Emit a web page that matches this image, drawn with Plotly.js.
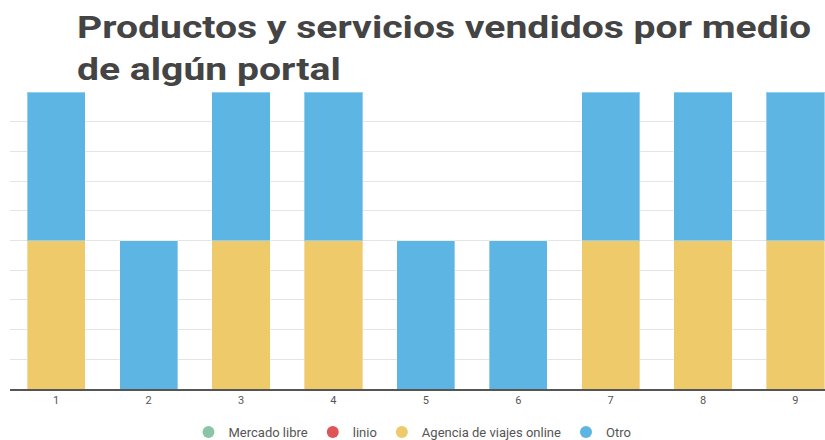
<!DOCTYPE html>
<html>
<head>
<meta charset="utf-8">
<script src="https://cdn.plot.ly/plotly-3.0.1.min.js"></script>
<style>html,body{margin:0;padding:0;background:#fff;overflow:hidden}</style>
</head>
<body>
<div id="chart" style="width:825px;height:440px"></div>
<script>
const categories = [1, 2, 3, 4, 5, 6, 7, 8, 9];
const tickLabels = ["1", "2", "3", "4", "5", "6", "7", "8", "9"];
const seriesNames = ["Mercado libre", "linio", "Agencia de viajes online", "Otro"];
const mercadoLibre = [0, 0, 0, 0, 0, 0, 0, 0, 0];
const linio = [0, 0, 0, 0, 0, 0, 0, 0, 0];
const agencia = [1, 0, 1, 1, 0, 0, 1, 1, 1];
const otro = [1, 1, 1, 1, 1, 1, 1, 1, 1];
const colors = ["#8CC5A6", "#E05458", "#EECA6A", "#5DB5E4"];
const values = [mercadoLibre, linio, agencia, otro];

const traces = [];
values.forEach((v, i) => {
  traces.push({
    type: "bar", x: categories, y: v, name: seriesNames[i],
    marker: {color: colors[i], line: {color: "rgba(255,255,255,0.35)", width: 1}},
    width: 0.63, showlegend: false, legendgroup: "g" + i, hoverinfo: "x+y+name"
  });
});
values.forEach((v, i) => {
  traces.push({
    type: "scatter", mode: "markers", x: [null], y: [null], name: seriesNames[i],
    marker: {color: colors[i], size: 15, symbol: "circle"},
    legendgroup: "g" + i, showlegend: true
  });
});

const TITLE_X = 77;
const layout = {
  width: 825, height: 440,
  margin: {l: 10, r: 0, t: 92, b: 51},
  paper_bgcolor: "#fff", plot_bgcolor: "#fff",
  barmode: "stack",
  title: {
    text: "<b>Productos y servicios vendidos por medio<br>de algún portal</b>",
    font: {family: "Roboto, sans-serif", size: 32, color: "#444"},
    x: TITLE_X / 825, xref: "container", xanchor: "left",
    y: 0.9135, yref: "container", yanchor: "top"
  },
  xaxis: {
    range: [0.5, 9.32], tickvals: categories, ticktext: tickLabels,
    showgrid: false, zeroline: false, showline: true, linecolor: "#555", linewidth: 2,
    ticks: "", tickfont: {family: "Roboto, sans-serif", size: 11, color: "#555"}
  },
  yaxis: {
    range: [0, 2], dtick: 0.2, showticklabels: false, gridcolor: "#e4e4e4", gridwidth: 1,
    zeroline: false, showline: false, ticks: ""
  },
  showlegend: true,
  legend: {
    orientation: "h", x: 0.5, xanchor: "center", xref: "container",
    y: 8 / 440, yanchor: "middle", yref: "container",
    font: {family: "Roboto, sans-serif", size: 13, color: "#555"},
    itemsizing: "constant", traceorder: "normal"
  }
};
const gd = document.getElementById("chart");
function stretchTitle() {
  const s = 1.222;
  const t = gd.querySelector(".gtitle");
  if (t) t.setAttribute("transform", "translate(" + (TITLE_X * (1 - s)) + ",0) scale(" + s + ",1)");
}
Plotly.newPlot(gd, traces, layout, {displayModeBar: false, staticPlot: true}).then(() => {
  stretchTitle();
  gd.on("plotly_afterplot", stretchTitle);
});
</script>
</body>
</html>
